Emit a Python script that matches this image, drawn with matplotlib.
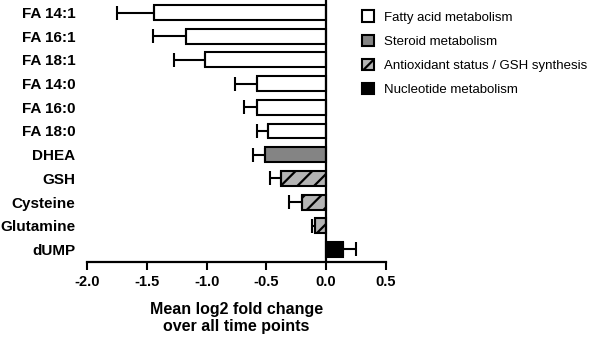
import matplotlib.pyplot as plt
from matplotlib.patches import Patch

plt.rcParams['font.family'] = ['Liberation Sans', 'DejaVu Sans']

# values
metabolites = ["FA 14:1", "FA 16:1", "FA 18:1", "FA 14:0", "FA 16:0", "FA 18:0",
               "DHEA", "GSH", "Cysteine", "Glutamine", "dUMP"]
mean_log2fc = [-1.44, -1.17, -1.01, -0.58, -0.58, -0.49,
               -0.51, -0.375, -0.20, -0.09, 0.14]
error_end = [-1.75, -1.45, -1.27, -0.76, -0.69, -0.58,
             -0.61, -0.47, -0.31, -0.12, 0.25]
groups = ["fatty", "fatty", "fatty", "fatty", "fatty", "fatty",
          "steroid", "anti", "anti", "anti", "nucleo"]

styles = {
    "fatty": dict(color="white", hatch=None),
    "steroid": dict(color="#848484", hatch=None),
    "anti": dict(color="#b4b4b4", hatch="//"),
    "nucleo": dict(color="black", hatch=None),
}
legend_names = {
    "fatty": "Fatty acid metabolism",
    "steroid": "Steroid metabolism",
    "anti": "Antioxidant status / GSH synthesis",
    "nucleo": "Nucleotide metabolism",
}

plt.rcParams['hatch.linewidth'] = 1.6

fig = plt.figure(figsize=(6, 3.45), dpi=100)
ax = fig.add_axes([0.145, 0.2406, 0.4983, 0.7594])

ypos = list(range(len(metabolites)))
for i, (v, g) in enumerate(zip(mean_log2fc, groups)):
    st = styles[g]
    ax.barh(i, v, height=0.63, color=st["color"], hatch=st["hatch"],
            edgecolor="black", linewidth=1.5, zorder=2)

lo = [max(v - e, 0) for v, e in zip(mean_log2fc, error_end)]
hi = [max(e - v, 0) for v, e in zip(mean_log2fc, error_end)]
ax.errorbar(mean_log2fc, ypos, xerr=[lo, hi], fmt="none", ecolor="black",
            elinewidth=1.5, capsize=5, capthick=1.5, zorder=3)

ax.axvline(0, color="black", linewidth=1.6, zorder=4)

ax.set_xlim(-2.0, 0.5)
ax.set_ylim(10.53, -0.53)
ax.set_xticks([-2.0, -1.5, -1.0, -0.5, 0.0, 0.5])
ax.set_xticklabels(["-2.0", "-1.5", "-1.0", "-0.5", "0.0", "0.5"],
                   fontsize=10.5, fontweight="bold")
ax.set_yticks(ypos)
ax.set_yticklabels(metabolites, fontsize=11, fontweight="bold")
ax.tick_params(axis="y", length=0, pad=8.5)
ax.tick_params(axis="x", length=6, width=1.5, pad=3.5)

for side in ["top", "right", "left"]:
    ax.spines[side].set_visible(False)
ax.spines["bottom"].set_linewidth(1.6)

ax.set_xlabel("Mean log2 fold change\nover all time points", fontsize=11.5,
              fontweight="bold", labelpad=9, linespacing=1.2)

handles = [Patch(facecolor=styles[k]["color"], hatch=styles[k]["hatch"],
                 edgecolor="black", linewidth=1.5, label=legend_names[k])
           for k in ["fatty", "steroid", "anti", "nucleo"]]
fig.legend(handles=handles, loc="upper left", bbox_to_anchor=(0.603, 0.97),
           frameon=False, fontsize=9.5, handlelength=0.95, handleheight=0.95,
           handletextpad=0.7, labelspacing=0.83, borderpad=0, borderaxespad=0)

fig.savefig("out.png", dpi=100)
